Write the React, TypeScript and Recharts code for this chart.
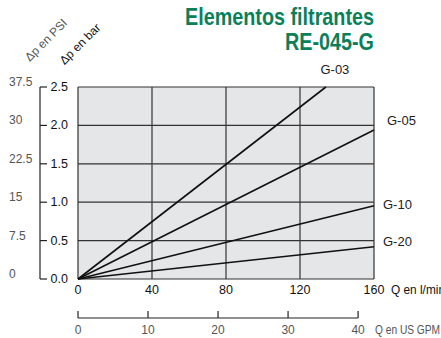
import React from 'react';
import { LineChart, Line, XAxis, YAxis, CartesianGrid } from 'recharts';

// ---- data ----
const FLOW_TICKS = [0, 40, 80, 120, 160];
const GPM_TICKS = [0, 10, 20, 30, 40];
const BAR_TICKS = [0, 0.5, 1.0, 1.5, 2.0, 2.5];
const PSI_TICKS = [0, 7.5, 15, 22.5, 30, 37.5];
const FLOW_MAX = 160;
const GPM_MAX = 160 / 3.785;
const BAR_MAX = 2.5;
const PSI_MAX = 37.5;

const SERIES_NAMES = ['G-03', 'G-05', 'G-10', 'G-20'];
const G03_FLOW = [0, 134];
const G03_DP = [0, 2.5];
const G05_FLOW = [0, 160];
const G05_DP = [0, 1.94];
const G10_FLOW = [0, 160];
const G10_DP = [0, 0.955];
const G20_FLOW = [0, 160];
const G20_DP = [0, 0.42];

const TITLE_1 = 'Elementos filtrantes';
const TITLE_2 = 'RE-045-G';
const PSI_TITLE = 'Δp en PSI';
const BAR_TITLE = 'Δp en bar';
const FLOW_TITLE = 'Q en l/min';
const GPM_TITLE = 'Q en US GPM';

const build = (q: number[], dp: number[]) => q.map((v, i) => ({ q: v, dp: dp[i] }));

// chart-level table so the GPM axis has values of its own
const GPM_TABLE = GPM_TICKS.map((g) => ({ gpm: g }));

const SERIES = [
  { name: SERIES_NAMES[0], data: build(G03_FLOW, G03_DP), dx: 9, dy: -18, anchor: 'middle' },
  { name: SERIES_NAMES[1], data: build(G05_FLOW, G05_DP), dx: 13, dy: -10, anchor: 'start' },
  { name: SERIES_NAMES[2], data: build(G10_FLOW, G10_DP), dx: 9, dy: -1, anchor: 'start' },
  { name: SERIES_NAMES[3], data: build(G20_FLOW, G20_DP), dx: 9, dy: -5, anchor: 'start' },
];

const NUM_FONT = "'Liberation Sans', Arial, sans-serif";
const GREEN = '#0b7f5a';

const PsiTick = (props: any) => {
  const { x, y, payload } = props;
  return (
    <text x={x} y={y - 5} textAnchor="start" dominantBaseline="central" fontFamily={NUM_FONT} fontSize={12} fill="#555">
      {String(payload.value)}
    </text>
  );
};

const BarTick = (props: any) => {
  const { x, y, payload } = props;
  return (
    <text x={x} y={y} textAnchor="end" dominantBaseline="central" fontFamily={NUM_FONT} fontSize={12.5} fill="#111">
      {Number(payload.value).toFixed(1)}
    </text>
  );
};

const FlowTick = (props: any) => {
  const { x, y, payload } = props;
  return (
    <text x={x} y={y + 11} textAnchor="middle" dominantBaseline="central" fontFamily={NUM_FONT} fontSize={12.5} fill="#111">
      {String(payload.value)}
    </text>
  );
};

const GpmTick = (props: any) => {
  const { x, y, payload, index, width } = props;
  const w = typeof width === 'number' ? width : 296;
  const step = (w * (GPM_TICKS[1] - GPM_TICKS[0])) / GPM_MAX;
  return (
    <g>
      <line x1={x} x2={x} y1={y - 7} y2={y} stroke="#222" strokeWidth={1.2} />
      {index > 0 && <line x1={x - step} x2={x} y1={y} y2={y} stroke="#222" strokeWidth={1.2} />}
      <text x={x} y={y + 12} textAnchor="middle" dominantBaseline="central" fontFamily={NUM_FONT} fontSize={12} fill="#555">
        {String(payload.value)}
      </text>
    </g>
  );
};

const FlowLabel = (props: any) => {
  const vb = props.viewBox || {};
  return (
    <text x={vb.x + vb.width + 17} y={vb.y + 11} textAnchor="start" dominantBaseline="central" fontFamily={NUM_FONT} fontSize={12} fill="#111" textLength={54} lengthAdjust="spacingAndGlyphs">
      {FLOW_TITLE}
    </text>
  );
};

const GpmLabel = (props: any) => {
  const vb = props.viewBox || {};
  return (
    <text x={vb.x + vb.width + 1} y={vb.y + 12} textAnchor="start" dominantBaseline="central" fontFamily={NUM_FONT} fontSize={12} fill="#555" textLength={65} lengthAdjust="spacingAndGlyphs">
      {GPM_TITLE}
    </text>
  );
};

const makeEndLabel = (s: any) => (props: any) => {
  const { x, y, index } = props;
  if (index !== s.data.length - 1) return null;
  return (
    <text x={x + s.dx} y={y + s.dy} textAnchor={s.anchor} dominantBaseline="central" fontFamily={NUM_FONT} fontSize={13} fill="#222">
      {s.name}
    </text>
  );
};

export default function App() {
  return (
    <div style={{ position: 'absolute', left: 0, top: 0, width: 441, height: 338, background: '#fff' }}>
      <LineChart width={441} height={338} data={GPM_TABLE} margin={{ top: 87, right: 67, left: 0, bottom: 0 }}>
        <CartesianGrid xAxisId="flow" yAxisId="bar" stroke="#333" strokeWidth={1.2} fill="#e5e6e8" fillOpacity={1} />
        <XAxis
          xAxisId="flow"
          dataKey="q"
          type="number"
          domain={[0, FLOW_MAX]}
          ticks={FLOW_TICKS}
          height={39}
          axisLine={false}
          tickLine={false}
          tickSize={0}
          tickMargin={0}
          tick={<FlowTick />}
          label={<FlowLabel />}
        />
        <XAxis
          xAxisId="gpm"
          dataKey="gpm"
          type="number"
          domain={[0, GPM_MAX]}
          allowDataOverflow
          ticks={GPM_TICKS}
          height={20}
          axisLine={false}
          tickLine={false}
          tickSize={0}
          tickMargin={0}
          tick={<GpmTick />}
          label={<GpmLabel />}
        />
        <YAxis
          yAxisId="bar"
          type="number"
          domain={[0, BAR_MAX]}
          ticks={BAR_TICKS}
          width={38}
          axisLine={false}
          tickLine={false}
          tickSize={0}
          tickMargin={10}
          tick={<BarTick />}
        />
        <YAxis
          yAxisId="psi"
          type="number"
          domain={[0, PSI_MAX]}
          allowDataOverflow
          ticks={PSI_TICKS}
          width={40}
          axisLine={{ stroke: '#222', strokeWidth: 1.2 }}
          tickLine={{ stroke: '#222', strokeWidth: 1.2 }}
          tickSize={-7}
          tickMargin={38}
          tick={<PsiTick />}
        />
        {SERIES.map((s) => (
          <Line
            key={s.name}
            xAxisId="flow"
            yAxisId="bar"
            data={s.data}
            dataKey="dp"
            name={s.name}
            stroke="#111"
            strokeWidth={1.6}
            dot={false}
            isAnimationActive={false}
            label={makeEndLabel(s)}
          />
        ))}
      </LineChart>
      <svg width={441} height={338} style={{ position: 'absolute', left: 0, top: 0, pointerEvents: 'none' }}>
        <text x={374} y={25} textAnchor="end" fontFamily={NUM_FONT} fontWeight="bold" fontSize={24} fill={GREEN} textLength={189} lengthAdjust="spacingAndGlyphs">
          {TITLE_1}
        </text>
        <text x={374} y={50} textAnchor="end" fontFamily={NUM_FONT} fontWeight="bold" fontSize={24} fill={GREEN} textLength={89} lengthAdjust="spacingAndGlyphs">
          {TITLE_2}
        </text>
        <g transform="translate(46 40) rotate(-45)">
          <text x={0} y={0} textAnchor="middle" dominantBaseline="central" fontFamily={NUM_FONT} fontSize={12} fill="#555">
            {PSI_TITLE}
          </text>
        </g>
        <g transform="translate(80 44) rotate(-45)">
          <text x={0} y={0} textAnchor="middle" dominantBaseline="central" fontFamily={NUM_FONT} fontSize={12} fill="#111">
            {BAR_TITLE}
          </text>
        </g>
      </svg>
    </div>
  );
}
